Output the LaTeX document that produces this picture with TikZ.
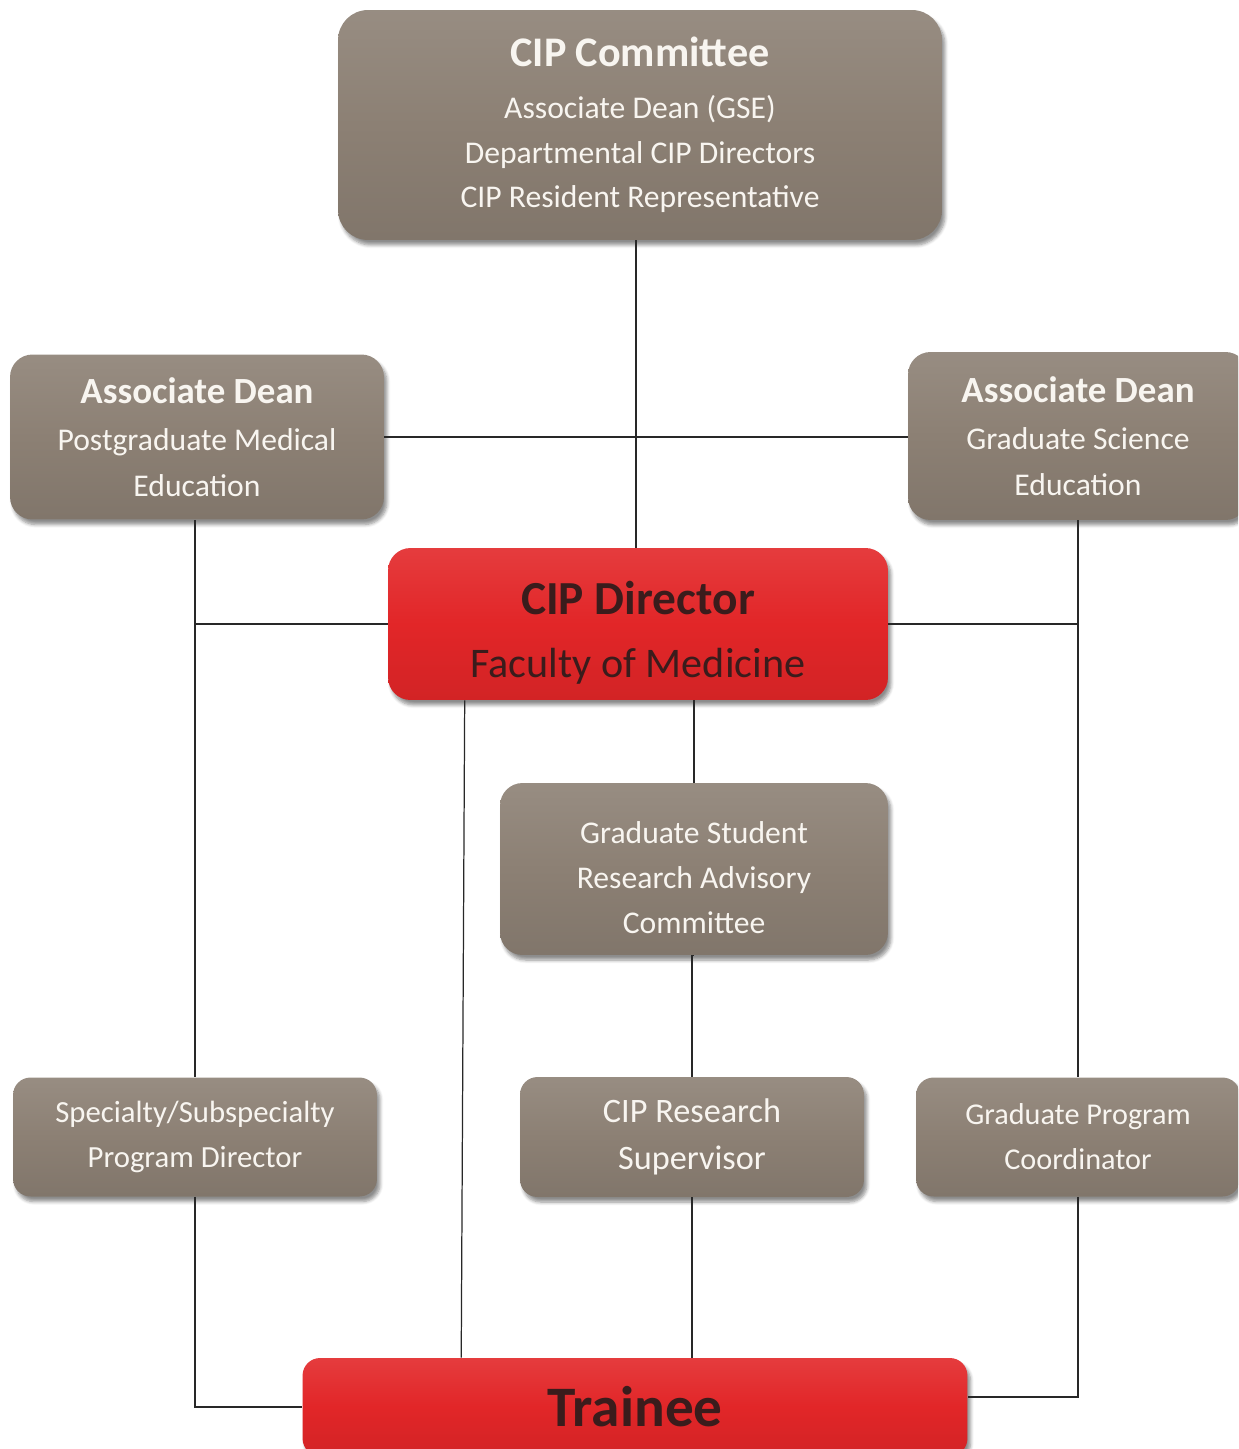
\documentclass[tikz,border=0pt]{standalone}
\usepackage{fontspec}
\setmainfont{Carlito}
\usetikzlibrary{shadows.blur,calc}
\definecolor{taupe}{RGB}{140,128,116}
\definecolor{cipred}{RGB}{226,38,40}
\definecolor{darktxt}{RGB}{58,28,28}
\definecolor{lighttxt}{RGB}{248,245,240}
\definecolor{linecol}{RGB}{40,40,40}
\tikzset{
  box/.style={rectangle, rounded corners=0.45cm, inner sep=0pt, align=center,
    blur shadow={shadow xshift=0.06cm, shadow yshift=-0.1cm, shadow blur steps=6, shadow opacity=45}},
  graybox/.style={box, top color=taupe!90!white, bottom color=taupe!92!black, middle color=taupe, text=lighttxt},
  redbox/.style={box, top color=cipred!90!white, bottom color=cipred!93!black, middle color=cipred, text=darktxt},
  conn/.style={draw=linecol, line width=0.7pt},
}
\begin{document}
\begin{tikzpicture}[x=0.02cm, y=-0.02cm]
\useasboundingbox (0,0) rectangle (1238,1449);
\clip (0,0) rectangle (1238,1449);
% nodes
\node[graybox, minimum width=12.08cm, minimum height=4.6cm, rounded corners=0.6cm,
  font=\fontsize{18}{25.5}\selectfont] (committee) at (640,125)
  {{\fontsize{24}{30}\selectfont\bfseries CIP Committee}\\[4pt]
   Associate Dean (GSE)\\ Departmental CIP Directors\\ CIP Resident Representative};
\node[graybox, minimum width=7.48cm, minimum height=3.3cm,
  font=\fontsize{18}{26}\selectfont] (pgme) at (197,437)
  {{\fontsize{21}{26}\selectfont\bfseries Associate Dean}\\[1pt]
   Postgraduate Medical\\ Education};
\node[graybox, minimum width=6.8cm, minimum height=3.36cm,
  font=\fontsize{18}{26}\selectfont] (gse) at (1078,436)
  {{\fontsize{21}{26}\selectfont\bfseries Associate Dean}\\[1pt]
   Graduate Science\\ Education};
\node[redbox, minimum width=10cm, minimum height=3.04cm,
  font=\fontsize{24}{30}\selectfont] (director) at (638,624)
  {\rule{0pt}{29pt}{\fontsize{27}{34}\selectfont\bfseries CIP Director}\\[6pt]
   Faculty of Medicine};
\node[graybox, minimum width=7.76cm, minimum height=3.44cm,
  font=\fontsize{18}{25.5}\selectfont] (gsrac) at (694,869)
  {\rule{0pt}{22pt}Graduate Student\\ Research Advisory\\ Committee};
\node[graybox, minimum width=7.28cm, minimum height=2.38cm, rounded corners=0.35cm,
  font=\fontsize{17.5}{25.5}\selectfont] (spec) at (195,1137)
  {Specialty/Subspecialty\\ Program Director};
\node[graybox, minimum width=6.88cm, minimum height=2.4cm, rounded corners=0.35cm,
  font=\fontsize{19.5}{27}\selectfont] (sup) at (692,1137)
  {CIP Research\\ Supervisor};
\node[graybox, minimum width=6.48cm, minimum height=2.38cm, rounded corners=0.35cm,
  font=\fontsize{17.2}{25.5}\selectfont] (coord) at (1078,1137)
  {Graduate Program\\ Coordinator};
\node[redbox, minimum width=13.3cm, minimum height=1.96cm, rounded corners=0.35cm,
  font=\fontsize{32.6}{36}\selectfont\bfseries] (trainee) at (635,1407)
  {Trainee};
% connectors
\coordinate (dirL) at ($(director.south west)+(77,0)$);
\coordinate (trnL) at ($(trainee.north west)+(159,0)$);
\coordinate (cmB) at ($(committee.south)+(-4,0)$);
\draw[conn] (cmB) -- (cmB |- director.north);
\draw[conn] (pgme.east) -- (pgme.east -| gse.west);
\draw[conn] (pgme.south -| spec.north) -- (spec.north);
\draw[conn] (director.west) -- (director.west -| spec.north);
\draw[conn] (gse.south) -- (coord.north);
\draw[conn] (director.east) -- (director.east -| gse.south);
\draw[conn] (director.south -| gsrac.north) -- (gsrac.north);
\draw[conn] (gsrac.south) -- (gsrac.south -| sup.north) -- (sup.north);
\draw[conn] (sup.south) -- (sup.south |- trainee.north);
\draw[conn] (dirL) -- (trnL);
\draw[conn] (spec.south) |- (trainee.west);
\draw[conn] (coord.south) |- ([yshift=0.2cm]trainee.east);
\end{tikzpicture}
\end{document}
